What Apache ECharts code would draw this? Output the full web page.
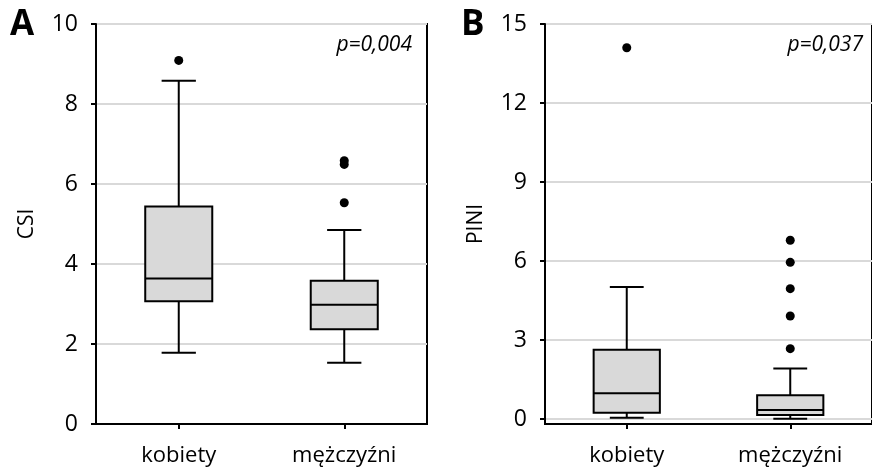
<!DOCTYPE html>
<html><head><meta charset="utf-8">
<script src="https://cdn.jsdelivr.net/npm/echarts@6/dist/echarts.min.js"></script>
<style>html,body{margin:0;padding:0;background:#fff}#c{width:872px;height:470px}</style>
</head><body><div id="c"></div>
<script>
const categories = ['kobiety', 'mężczyźni'];
// each box: [category index, min, Q1, median, Q3, max]
const csiBoxes = [[0, 1.78, 3.07, 3.64, 5.44, 8.58], [1, 1.53, 2.37, 2.98, 3.58, 4.85]];
const csiOutliers = [[0, 9.09], [1, 6.58], [1, 6.49], [1, 5.53]];
const piniBoxes = [[0, 0.05, 0.24, 0.98, 2.63, 5.01], [1, 0.01, 0.15, 0.34, 0.90, 1.92]];
const piniOutliers = [[0, 14.10], [1, 6.79], [1, 5.95], [1, 4.95], [1, 3.91], [1, 2.67]];
const csiTicks = [0, 2, 4, 6, 8, 10];
const piniTicks = [0, 3, 6, 9, 12, 15];
const panelLabels = ['A', 'B'];
const pValues = ['p=0,004', 'p=0,037'];
const yNames = ['CSI', 'PINI'];

const FONT = '"Open Sans", "Noto Sans", sans-serif';

function renderBox(params, api) {
  const idx = api.value(0);
  const vMin = api.value(1), q1 = api.value(2), med = api.value(3), q3 = api.value(4), vMax = api.value(5);
  const band = api.size([1, 0])[0];
  const boxW = band * 0.405;
  const capW = band * 0.207;
  const cx = api.coord([idx, med])[0];
  const yMin = api.coord([idx, vMin])[1];
  const yQ1 = api.coord([idx, q1])[1];
  const yMed = api.coord([idx, med])[1];
  const yQ3 = api.coord([idx, q3])[1];
  const yMax = api.coord([idx, vMax])[1];
  const ls = { stroke: '#000', lineWidth: 2 };
  return {
    type: 'group',
    children: [
      { type: 'line', shape: { x1: cx, y1: yMax, x2: cx, y2: yQ3 }, style: ls },
      { type: 'line', shape: { x1: cx, y1: yQ1, x2: cx, y2: yMin }, style: ls },
      { type: 'line', shape: { x1: cx - capW / 2, y1: yMax, x2: cx + capW / 2, y2: yMax }, style: ls },
      { type: 'line', shape: { x1: cx - capW / 2, y1: yMin, x2: cx + capW / 2, y2: yMin }, style: ls },
      { type: 'rect', shape: { x: cx - boxW / 2, y: yQ3, width: boxW, height: yQ1 - yQ3 }, style: { fill: '#d9d9d9', stroke: '#000', lineWidth: 2 } },
      { type: 'line', shape: { x1: cx - boxW / 2, y1: yMed, x2: cx + boxW / 2, y2: yMed }, style: ls }
    ]
  };
}

function xAxisCfg(gi) {
  return {
    type: 'category', gridIndex: gi, data: categories, boundaryGap: true,
    axisLine: { show: true, onZero: false, lineStyle: { color: '#000', width: 2 } },
    axisTick: { show: true, alignWithLabel: true, length: 5, lineStyle: { color: '#000', width: 2 } },
    axisLabel: { color: '#000', fontSize: 22, fontFamily: FONT, margin: 21 },
    splitLine: { show: false }
  };
}

function yAxisCfg(gi, ticks, min, name) {
  return {
    type: 'value', gridIndex: gi, min: min, max: ticks[ticks.length - 1],
    name: name, nameLocation: 'middle', nameGap: 58, nameRotate: 90,
    nameTextStyle: { color: '#000', fontSize: 21, fontFamily: FONT },
    axisLine: { show: true, onZero: false, lineStyle: { color: '#000', width: 2 } },
    axisTick: { show: true, length: 5, customValues: ticks, lineStyle: { color: '#000', width: 2 } },
    axisLabel: { color: '#000', fontSize: 23, fontFamily: FONT, margin: 18, customValues: ticks },
    splitLine: { show: true, lineStyle: { color: '#d9d9d9', width: 2 } }
  };
}

const option = {
  animation: false,
  backgroundColor: '#fff',
  title: [
    { text: panelLabels[0], left: 10, top: 8, padding: 0, textStyle: { fontSize: 35, fontWeight: 'bold', fontFamily: FONT, color: '#000' } },
    { text: panelLabels[1], left: 461, top: 8, padding: 0, textStyle: { fontSize: 35, fontWeight: 'bold', fontFamily: FONT, color: '#000' } },
    { text: pValues[0], right: 460, top: 35, padding: 0, textStyle: { fontSize: 21, fontStyle: 'italic', fontWeight: 'normal', fontFamily: FONT, color: '#000' } },
    { text: pValues[1], right: 9, top: 35, padding: 0, textStyle: { fontSize: 21, fontStyle: 'italic', fontWeight: 'normal', fontFamily: FONT, color: '#000' } }
  ],
  grid: [
    { left: 96, top: 24, width: 331, height: 400, show: true, borderColor: '#000', borderWidth: 2, backgroundColor: 'transparent' },
    { left: 545, top: 24, width: 331, height: 400, show: true, borderColor: '#000', borderWidth: 2, backgroundColor: 'transparent' }
  ],
  xAxis: [xAxisCfg(0), xAxisCfg(1)],
  yAxis: [yAxisCfg(0, csiTicks, 0, yNames[0]), yAxisCfg(1, piniTicks, -0.19, yNames[1])],
  series: [
    { type: 'custom', xAxisIndex: 0, yAxisIndex: 0, renderItem: renderBox, data: csiBoxes, encode: { x: 0, y: [1, 2, 3, 4, 5] }, z: 3 },
    { type: 'scatter', xAxisIndex: 0, yAxisIndex: 0, data: csiOutliers, symbol: 'circle', symbolSize: 9, itemStyle: { color: '#000', opacity: 1 }, z: 4 },
    { type: 'custom', xAxisIndex: 1, yAxisIndex: 1, renderItem: renderBox, data: piniBoxes, encode: { x: 0, y: [1, 2, 3, 4, 5] }, z: 3 },
    { type: 'scatter', xAxisIndex: 1, yAxisIndex: 1, data: piniOutliers, symbol: 'circle', symbolSize: 9, itemStyle: { color: '#000', opacity: 1 }, z: 4 }
  ]
};

const chart = echarts.init(document.getElementById('c'), null, { renderer: 'canvas' });
chart.setOption(option);
</script>
</body></html>
